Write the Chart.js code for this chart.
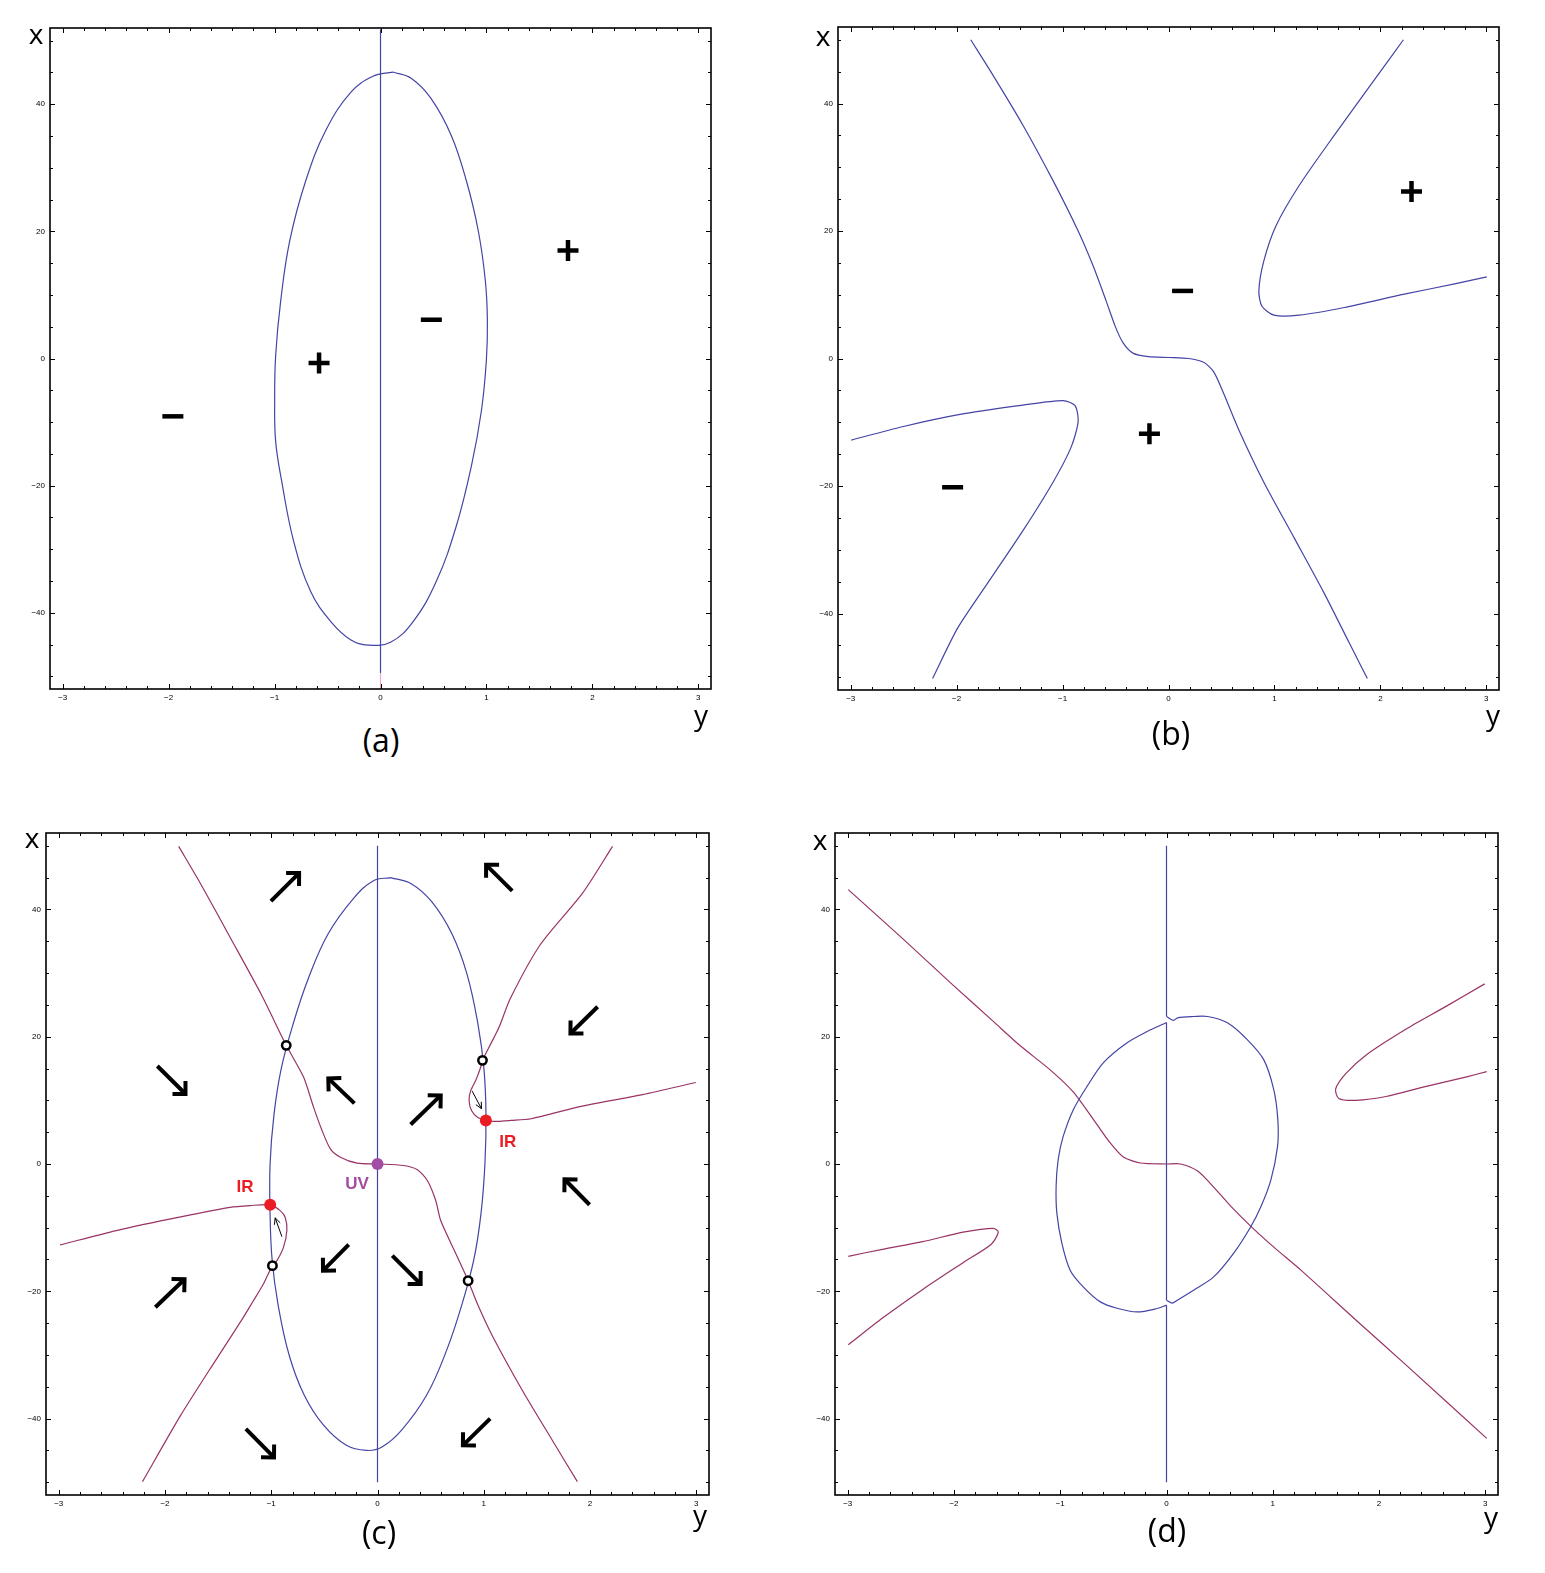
<!DOCTYPE html>
<html><head><meta charset="utf-8">
<script src="https://cdn.jsdelivr.net/npm/chart.js@4/dist/chart.umd.min.js"></script>
<style>
html,body{margin:0;padding:0;background:#fff}
body{width:1545px;height:1573px;position:relative;overflow:hidden;font-family:'Open Sans',sans-serif}
canvas{position:absolute}
.lbl{position:absolute;transform:translate(-50%,-50%);color:#000;line-height:1;white-space:nowrap}
.ax{font-size:28px}
.pn{font-size:32px}
</style></head><body>
<canvas id="ca"></canvas><canvas id="cb"></canvas><canvas id="cc"></canvas><canvas id="cd"></canvas>
<div class="lbl ax" style="left:36px;top:33px">x</div>
<div class="lbl ax" style="left:701px;top:714px">y</div>
<div class="lbl pn" style="left:381px;top:740px">(a)</div>
<div class="lbl ax" style="left:823px;top:35px">x</div>
<div class="lbl ax" style="left:1493px;top:714px">y</div>
<div class="lbl pn" style="left:1171px;top:733px">(b)</div>
<div class="lbl ax" style="left:32px;top:837px">x</div>
<div class="lbl ax" style="left:700px;top:1514px">y</div>
<div class="lbl pn" style="left:379px;top:1532px">(c)</div>
<div class="lbl ax" style="left:820px;top:839px">x</div>
<div class="lbl ax" style="left:1491px;top:1516px">y</div>
<div class="lbl pn" style="left:1167px;top:1530px">(d)</div>
<script>
// ---------- axes ----------
const hTickLabels = [-3, -2, -1, 0, 1, 2, 3];      // horizontal axis "y"
const vTickLabels = [-40, -20, 0, 20, 40];          // vertical axis "x"
const hMinorStep = 0.2, vMinorStep = 5;
const hRange = [-3.12, 3.12], vRange = [-52, 52];

// ---------- panel (a) : [y, x] pairs ----------
const aEllipse = [[0.118,45.07],[0.289,44.1],[0.478,40.9],[0.668,35.1],[0.810,28.0],[0.923,20.1],[0.990,12.2],[1.009,5.9],[0.999,-0.4],[0.952,-8.3],[0.857,-17.0],[0.715,-26.4],[0.526,-35.1],[0.308,-41.4],[0.099,-44.6],[-0.118,-45.1],[-0.279,-44.3],[-0.469,-41.4],[-0.658,-36.7],[-0.819,-28.8],[-0.933,-19.3],[-0.990,-13.0],[-0.999,-6.7],[-0.990,0.4],[-0.942,9.1],[-0.857,18.5],[-0.705,28.0],[-0.516,35.9],[-0.279,41.9],[-0.071,44.4],[0.118,45.07]];
const aAxisLine = [[0,51.8],[0,-49.5]];
const aAxisTail = [[0,-49.5],[0,-52]];
const aPlus = [[1.77,17.0],[-0.58,-0.7]];
const aMinus = [[0.48,6.1],[-1.96,-9.1]];

// ---------- panel (b) ----------
const bMain = [[-1.867,50.0],[-1.659,44.5],[-1.374,36.6],[-1.090,27.9],[-0.853,20.0],[-0.711,14.5],[-0.588,9.0],[-0.502,5.0],[-0.427,2.4],[-0.332,0.8],[-0.190,0.3],[0,0.16],[0.190,0],[0.332,-0.6],[0.427,-2.1],[0.521,-5.5],[0.664,-11.2],[0.900,-19.4],[1.185,-28.1],[1.469,-36.8],[1.706,-44.6],[1.877,-50.2]];
const bUpperRight = [[2.218,50.0],[1.943,43.7],[1.564,35.0],[1.232,27.1],[1.014,20.8],[0.900,15.3],[0.853,10.6],[0.882,8.2],[0.995,6.8],[1.232,6.8],[1.659,8.0],[2.227,10.1],[2.701,11.7],[3.005,12.8]];
const bLowerLeft = [[-2.995,-12.8],[-2.512,-10.7],[-1.943,-8.7],[-1.374,-7.3],[-0.995,-6.6],[-0.882,-7.4],[-0.853,-9.9],[-0.919,-13.9],[-1.090,-19.4],[-1.374,-27.0],[-1.706,-35.2],[-1.991,-42.3],[-2.227,-50.2]];
const bPlus = [[2.294,26.2],[-0.180,-11.8]];
const bMinus = [[0.133,10.6],[-2.038,-20.2]];

// ---------- panel (c) ----------
const cEllipse = [[0.123,45.0],[0.321,44.0],[0.510,41.2],[0.699,36.2],[0.841,29.9],[0.945,22.0],[1.002,14.9],[1.021,7.8],[1.011,0],[0.974,-7.8],[0.907,-15.0],[0.794,-22.1],[0.652,-29.2],[0.463,-36.3],[0.227,-41.8],[0.038,-44.5],[-0.104,-45.0],[-0.293,-44.2],[-0.510,-41.0],[-0.690,-36.3],[-0.832,-30.0],[-0.936,-22.1],[-0.992,-15.0],[-1.011,-7.9],[-1.011,0],[-0.974,7.8],[-0.907,14.9],[-0.794,22.0],[-0.652,29.1],[-0.463,36.2],[-0.227,41.7],[-0.038,44.5],[0.123,45.0]];
const cAxisLine = [[0,50],[0,-50]];
const cMain = [[-1.871,49.9],[-1.664,44.0],[-1.380,35.4],[-1.096,26.7],[-0.859,18.64],[-0.696,13.66],[-0.602,8.94],[-0.522,5.27],[-0.444,2.39],[-0.349,1.07],[-0.192,0.13],[0,0],[0.246,-0.24],[0.375,-0.91],[0.469,-2.60],[0.548,-5.74],[0.595,-8.89],[0.753,-14.66],[0.853,-18.33],[0.941,-22.0],[1.078,-26.9],[1.361,-35.5],[1.645,-43.4],[1.881,-49.9]];
const cUpperRight = [[2.212,49.9],[1.928,42.5],[1.530,34.4],[1.250,26.0],[1.145,21.52],[1.067,18.91],[0.988,16.28],[0.972,15.23],[0.925,13.14],[0.878,11.56],[0.862,9.99],[0.885,8.42],[0.941,7.36],[1.020,6.84],[1.098,6.69],[1.256,6.84],[1.445,7.11],[1.928,9.1],[2.495,10.9],[2.996,12.8]];
const cLowerLeft = [[-2.987,-12.7],[-2.420,-10.3],[-1.853,-8.3],[-1.388,-6.80],[-1.199,-6.53],[-1.010,-6.42],[-0.916,-7.32],[-0.869,-8.37],[-0.853,-10.46],[-0.885,-13.09],[-0.947,-15.18],[-0.989,-15.97],[-1.074,-18.85],[-1.168,-21.48],[-1.270,-24.3],[-1.522,-30.8],[-1.853,-39.5],[-2.212,-49.9]];
const cCrossings = [[-0.859,18.64],[0.988,16.28],[-0.989,-15.97],[0.853,-18.33]];
const cIRPoints = [[-1.010,-6.42],[1.020,6.84]];
const cUVPoint = [[0,0]];
const cLabels = [[-1.246,-3.65,'IR'],[1.225,3.43,'IR'],[-0.192,-3.12,'UV']];
// flow arrows: [tail y, tail x, head y, head x]
const cFlowArrows = [[-1.003,41.3,-0.738,45.7],[1.268,42.9,1.022,47.0],[-2.072,15.4,-1.807,11.0],[-0.217,9.52,-0.463,13.45],[0.312,6.21,0.595,10.78],[2.072,24.7,1.816,20.5],[1.996,-6.4,1.760,-2.4],[-2.091,-22.5,-1.816,-18.1],[-0.271,-12.67,-0.513,-16.76],[0.139,-14.40,0.406,-18.85],[-1.239,-41.6,-0.974,-46.1],[1.060,-40.0,0.804,-44.2]];
const cSmallArrows = [[0.891,11.45,0.979,8.68],[-0.900,-11.41,-0.963,-8.46]];

// ---------- panel (d) ----------
const dAxisTop = [[0,50],[0,23.17]];
const dAxisMid = [[0,22.23],[0,-21.4]];
const dAxisBottom = [[0,-22.18],[0,-50]];
const dEllipseRight = [[0,23.17],[0.066,22.55],[0.104,22.97],[0.255,23.17],[0.387,23.17],[0.573,22.18],[0.762,19.51],[0.916,16.36],[1.010,11.64],[1.048,6.92],[1.045,2.72],[0.982,-2.52],[0.888,-6.72],[0.793,-9.86],[0.633,-14.0],[0.444,-17.73],[0.255,-19.82],[0.101,-21.4],[0.054,-21.87],[0,-21.4]];
const dEllipseLeft = [[0,-22.18],[-0.088,-22.7],[-0.277,-23.24],[-0.466,-22.66],[-0.623,-21.66],[-0.784,-19.3],[-0.907,-16.68],[-0.985,-12.43],[-1.032,-7.71],[-1.039,-3.57],[-1.020,0.63],[-0.973,4.30],[-0.878,8.50],[-0.749,12.16],[-0.595,15.89],[-0.371,19.04],[-0.182,20.81],[0,22.23]];
const dMain = [[-2.995,43.1],[-2.483,35.4],[-2.009,28.1],[-1.630,22.4],[-1.379,18.61],[-1.095,14.79],[-0.878,11.33],[-0.652,6.14],[-0.529,3.30],[-0.406,1.10],[-0.246,0.16],[0,0],[0.132,0],[0.293,-1.10],[0.444,-3.62],[0.604,-6.61],[0.812,-10.07],[1.010,-13.06],[1.265,-16.68],[1.782,-24.5],[2.256,-31.6],[3.014,-43.1]];
const dUpperRight = [[2.995,28.3],[2.635,24.8],[2.256,21.2],[1.877,17.1],[1.687,14.2],[1.592,11.8],[1.621,10.3],[1.782,10.0],[2.066,10.6],[2.445,12.2],[2.825,13.7],[3.014,14.5]];
const dLowerLeft = [[-2.995,-14.5],[-2.673,-13.4],[-2.294,-12.2],[-1.915,-10.7],[-1.630,-10.1],[-1.583,-10.7],[-1.649,-12.6],[-1.915,-15.5],[-2.294,-19.7],[-2.673,-24.2],[-2.995,-28.4]];

// ---------- styling ----------
const BLUE = '#4444a6', PURPLE = '#993366', PINK = '#f4a6c8', RED = '#ec1c24', VIOLET = '#a34ca3';
Chart.defaults.font.family = "'Liberation Sans', Arial, sans-serif";

const pts = arr => arr.map(p => ({x: p[0], y: p[1]}));
const curve = (arr, color, t) => ({data: pts(arr), showLine: true, borderColor: color, borderWidth: 1.2, pointRadius: 0, tension: t === undefined ? 0.25 : t, fill: false, order: 2});
const signs = (arr, style) => ({data: pts(arr), showLine: false, pointStyle: style, pointRadius: 10.5, pointBorderWidth: 4.5, pointBorderColor: '#000', pointBackgroundColor: '#000', order: 0});
const dots = (arr, color, r) => ({data: pts(arr), showLine: false, pointStyle: 'circle', pointRadius: r, pointBorderWidth: 0, pointBackgroundColor: color, pointBorderColor: color, order: 0});
const rings = arr => ({data: pts(arr), showLine: false, pointStyle: 'circle', pointRadius: 4.2, pointBorderWidth: 2.5, pointBorderColor: '#000', pointBackgroundColor: '#fff', order: 0});

const fmt = v => v < 0 ? '\u2212' + Math.abs(v) : String(v);
function tickList(range, step) {
  const out = [];
  const n0 = Math.ceil(range[0] / step - 1e-9), n1 = Math.floor(range[1] / step + 1e-9);
  for (let k = n0; k <= n1; k++) out.push(Math.round(k * step * 1000) / 1000);
  return out;
}

const frameTicks = {
  id: 'frameTicks',
  afterDraw(chart) {
    const {ctx, chartArea: a, scales: {x, y}} = chart;
    ctx.save();
    ctx.strokeStyle = '#000';
    ctx.lineWidth = 1;
    ctx.beginPath();
    x.ticks.forEach(t => {
      const p = Math.round(x.getPixelForValue(t.value)) + 0.5;
      const len = hTickLabels.includes(t.value) ? 5 : 3;
      ctx.moveTo(p, a.bottom); ctx.lineTo(p, a.bottom - len);
      ctx.moveTo(p, a.top); ctx.lineTo(p, a.top + len);
    });
    y.ticks.forEach(t => {
      const p = Math.round(y.getPixelForValue(t.value)) + 0.5;
      const len = vTickLabels.includes(t.value) ? 5 : 3;
      ctx.moveTo(a.left, p); ctx.lineTo(a.left + len, p);
      ctx.moveTo(a.right, p); ctx.lineTo(a.right - len, p);
    });
    ctx.stroke();
    ctx.lineWidth = 1.6;
    ctx.strokeRect(a.left, a.top, a.right - a.left, a.bottom - a.top);
    ctx.restore();
  }
};

function arrow(ctx, x1, y1, x2, y2, w, head, ang) {
  const t = Math.atan2(y2 - y1, x2 - x1);
  ctx.lineWidth = w;
  ctx.beginPath(); ctx.moveTo(x1, y1); ctx.lineTo(x2, y2); ctx.stroke();
  ctx.beginPath();
  ctx.moveTo(x2 - head * Math.cos(t - ang), y2 - head * Math.sin(t - ang));
  ctx.lineTo(x2, y2);
  ctx.lineTo(x2 - head * Math.cos(t + ang), y2 - head * Math.sin(t + ang));
  ctx.stroke();
}

const annot = {
  id: 'annot',
  afterDatasetsDraw(chart, args, opts) {
    const {ctx, scales: {x, y}} = chart;
    ctx.save();
    ctx.strokeStyle = '#000';
    ctx.lineCap = 'butt'; ctx.lineJoin = 'miter';
    (opts.bigArrows || []).forEach(a => arrow(ctx, x.getPixelForValue(a[0]), y.getPixelForValue(a[1]), x.getPixelForValue(a[2]), y.getPixelForValue(a[3]), 4, 13, Math.PI / 4));
    (opts.smallArrows || []).forEach(a => arrow(ctx, x.getPixelForValue(a[0]), y.getPixelForValue(a[1]), x.getPixelForValue(a[2]), y.getPixelForValue(a[3]), 1, 7, 0.45));
    ctx.font = "bold 17px 'Liberation Sans', Arial, sans-serif";
    ctx.textAlign = 'center'; ctx.textBaseline = 'middle';
    (opts.labels || []).forEach(l => {
      ctx.fillStyle = l[2] === 'UV' ? VIOLET : RED;
      ctx.fillText(l[2], x.getPixelForValue(l[0]), y.getPixelForValue(l[1]));
    });
    ctx.restore();
  }
};

function panel(id, left, top, W, H, datasets, annotOpts) {
  const cv = document.getElementById(id);
  const YW = 45, XH = 25, PT = 10, PR = 10;
  cv.width = YW + W + PR; cv.height = PT + H + XH;
  cv.style.left = (left - YW) + 'px'; cv.style.top = (top - PT) + 'px';
  const zeroPad = s => { s.paddingTop = 0; s.paddingBottom = 0; s.paddingLeft = 0; s.paddingRight = 0; };
  return new Chart(cv, {
    type: 'scatter',
    data: {datasets},
    options: {
      responsive: false, animation: false, events: [],
      layout: {autoPadding: false, padding: {top: PT, right: PR, left: 0, bottom: 0}},
      plugins: {legend: {display: false}, tooltip: {enabled: false}, annot: annotOpts || {}},
      scales: {
        x: {
          type: 'linear', position: 'bottom', min: hRange[0], max: hRange[1],
          grid: {display: false, drawTicks: false}, border: {display: false},
          afterBuildTicks: s => { s.ticks = tickList(hRange, hMinorStep).map(v => ({value: v})); },
          afterFit: s => { s.height = XH; zeroPad(s); },
          ticks: {autoSkip: false, maxRotation: 0, padding: 4, color: '#000', font: {size: 8},
                  callback: v => hTickLabels.includes(Math.round(v * 1000) / 1000) ? fmt(Math.round(v)) : ''}
        },
        y: {
          type: 'linear', position: 'left', min: vRange[0], max: vRange[1],
          grid: {display: false, drawTicks: false}, border: {display: false},
          afterBuildTicks: s => { s.ticks = tickList(vRange, vMinorStep).map(v => ({value: v})); },
          afterFit: s => { s.width = YW; zeroPad(s); },
          ticks: {autoSkip: false, padding: 5, color: '#000', font: {size: 8},
                  callback: v => vTickLabels.includes(v) ? fmt(v) : ''}
        }
      }
    },
    plugins: [frameTicks, annot]
  });
}

panel('ca', 50, 28, 661, 661, [
  signs(aPlus, 'cross'), signs(aMinus, 'line'),
  curve(aEllipse, BLUE, 0.4), curve(aAxisLine, BLUE), curve(aAxisTail, PINK)
]);
panel('cb', 838, 27, 661, 663, [
  signs(bPlus, 'cross'), signs(bMinus, 'line'),
  curve(bMain, BLUE), curve(bUpperRight, BLUE), curve(bLowerLeft, BLUE)
]);
panel('cc', 46, 833, 663, 662, [
  dots(cUVPoint, VIOLET, 6), dots(cIRPoints, RED, 6), rings(cCrossings),
  curve(cEllipse, BLUE, 0.4), curve(cAxisLine, BLUE),
  curve(cMain, PURPLE), curve(cUpperRight, PURPLE), curve(cLowerLeft, PURPLE)
], {bigArrows: cFlowArrows, smallArrows: cSmallArrows, labels: cLabels});
panel('cd', 835, 833, 663, 662, [
  curve(dAxisTop, BLUE), curve(dAxisMid, BLUE), curve(dAxisBottom, BLUE),
  curve(dEllipseRight, BLUE, 0.3), curve(dEllipseLeft, BLUE, 0.3),
  curve(dMain, PURPLE), curve(dUpperRight, PURPLE), curve(dLowerLeft, PURPLE)
]);
</script>
</body></html>
